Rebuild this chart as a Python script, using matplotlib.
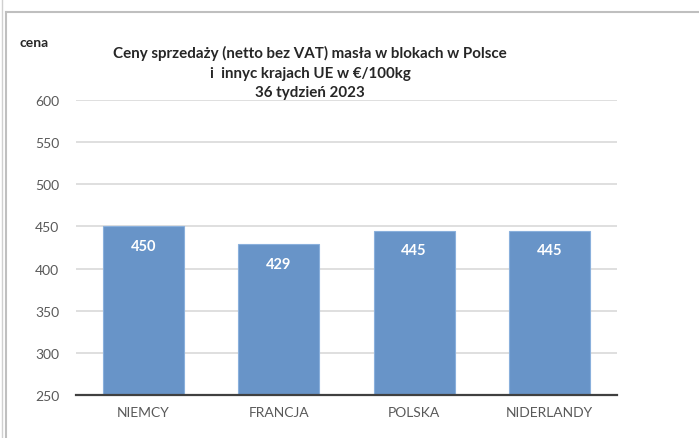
import matplotlib.pyplot as plt
from matplotlib.lines import Line2D

kraje = ['NIEMCY', 'FRANCJA', 'POLSKA', 'NIDERLANDY']
ceny = [450, 429, 445, 445]
y_ticks = [250, 300, 350, 400, 450, 500, 550, 600]

plt.rcParams['font.family'] = ['Lato', 'DejaVu Sans']

fig = plt.figure(figsize=(6.99, 4.39), dpi=100)
ax = fig.add_axes([76 / 699, 43 / 439, 541 / 699, 295 / 439])

bars = ax.bar(range(len(kraje)), ceny, width=0.6, color='#6894C8',
              edgecolor='#8AB0DC', linewidth=0.8, zorder=3)
for b, v in zip(bars, ceny):
    ax.annotate(str(v), (b.get_x() + b.get_width() / 2, v), xytext=(0, -19),
                textcoords='offset points', ha='center', va='bottom',
                color='white', fontsize=10.5, fontweight='bold', zorder=4)

ax.set_ylim(250, 600)
ax.set_xlim(-0.5, 3.5)
ax.set_yticks(y_ticks)
ax.set_xticks(range(len(kraje)))
ax.set_xticklabels(kraje)
ax.yaxis.grid(True, color='#D9D9D9', linewidth=1.2, zorder=0)
ax.tick_params(axis='both', length=0, colors='#595959', labelsize=10)
ax.tick_params(axis='y', pad=12)
ax.tick_params(axis='x', pad=8)
for s in ['top', 'right', 'left']:
    ax.spines[s].set_visible(False)
ax.spines['bottom'].set_color('#404040')
ax.spines['bottom'].set_linewidth(1.6)
ax.spines['bottom'].set_zorder(5)

fig.text(310 / 699, 1 - 73 / 439,
         'Ceny sprzedaży (netto bez VAT) masła w blokach w Polsce\n'
         'i  innyc krajach UE w €/100kg\n36 tydzień 2023',
         ha='center', va='center', fontsize=10.9, fontweight='bold',
         color='#262626', linespacing=1.54)
fig.text(20 / 699, 1 - 43 / 439, 'cena', ha='left', va='center',
         fontsize=10, fontweight='bold', color='#262626')

# ramka wykresu
fig.add_artist(Line2D([6 / 699, 1], [1 - 13 / 439, 1 - 13 / 439],
                      transform=fig.transFigure, color='#BFBFBF', linewidth=1.5))
fig.add_artist(Line2D([6 / 699, 6 / 699], [0, 1 - 13 / 439],
                      transform=fig.transFigure, color='#BFBFBF', linewidth=1.5))
fig.add_artist(Line2D([2 / 699, 2 / 699], [0, 1],
                      transform=fig.transFigure, color='#D0D0D0', linewidth=1))

fig.savefig('out.png', dpi=100)
